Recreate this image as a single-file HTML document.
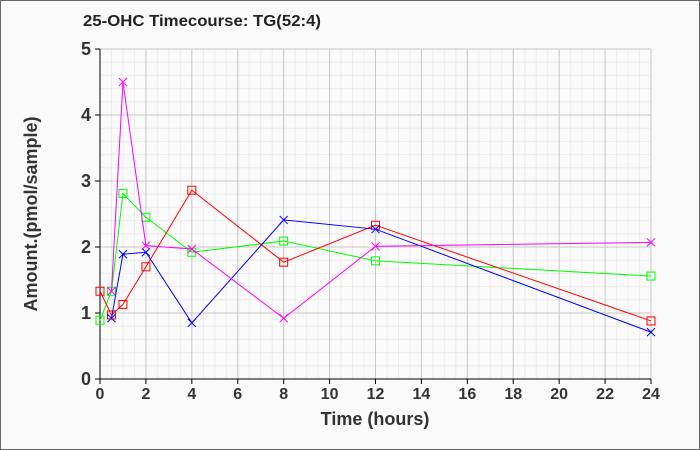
<!DOCTYPE html>
<html><head><meta charset="utf-8"><style>
html,body{margin:0;padding:0;background:#fafafa;}
svg{display:block;font-family:"Liberation Sans",Arial,sans-serif;}
</style></head><body>
<svg id="c" width="700" height="450" xmlns="http://www.w3.org/2000/svg"></svg>
<script>
const s=document.getElementById('c');
const X0=100,XS=(651-100)/24,Y0=379,YS=66;
const px=t=>X0+t*XS, py=v=>Y0-v*YS;
let h='<rect x="0.5" y="0.5" width="699" height="449" fill="#fafafa" stroke="#666"/>';
h+='<text x="83" y="26" font-size="16" font-weight="bold" fill="#222" textLength="238" lengthAdjust="spacingAndGlyphs">25-OHC Timecourse: TG(52:4)</text>';
for(let t=0;t<=24;t+=0.5){h+=`<line x1="${px(t)}" y1="${py(5)}" x2="${px(t)}" y2="${Y0}" stroke="#ececec"/>`;}
for(let v=0;v<=5.001;v+=0.2){h+=`<line x1="${X0}" y1="${py(v)}" x2="${px(24)}" y2="${py(v)}" stroke="#ececec"/>`;}
for(let t=0;t<=24;t+=2){h+=`<line x1="${px(t)}" y1="${py(5)}" x2="${px(t)}" y2="${Y0}" stroke="#c8c8c8"/>`;
 h+=`<line x1="${px(t)}" y1="${Y0}" x2="${px(t)}" y2="${Y0+5}" stroke="#000"/>`;
 h+=`<text x="${px(t)}" y="${Y0+20}" font-size="16" font-weight="bold" fill="#333" text-anchor="middle">${t}</text>`;}
for(let v=0;v<=5;v++){h+=`<line x1="${X0}" y1="${py(v)}" x2="${px(24)}" y2="${py(v)}" stroke="#c8c8c8"/>`;
 h+=`<line x1="${X0-5}" y1="${py(v)}" x2="${X0}" y2="${py(v)}" stroke="#000"/>`;
 h+=`<text x="${X0-9}" y="${py(v)+6}" font-size="18" font-weight="bold" fill="#333" text-anchor="end">${v}</text>`;}
h+=`<line x1="${X0}" y1="${py(5)}" x2="${X0}" y2="${Y0}" stroke="#000"/><line x1="${X0}" y1="${Y0}" x2="${px(24)}" y2="${Y0}" stroke="#000"/>`;
h+=`<text x="375" y="425" font-size="18" font-weight="bold" fill="#333" text-anchor="middle">Time (hours)</text>`;
h+=`<text transform="translate(37,214) rotate(-90)" font-size="18" font-weight="bold" fill="#333" text-anchor="middle">Amount.(pmol/sample)</text>`;
const T=[0,0.5,1,2,4,8,12,24];
const ser=[
 ['#00ff00','sq',[0.89,1.33,2.81,2.45,1.92,2.09,1.79,1.56]],
 ['#ff0000','sq',[1.33,0.97,1.13,1.70,2.86,1.77,2.33,0.88]],
 ['#0000ff','x',[null,0.92,1.89,1.92,0.85,2.41,2.27,0.71]],
 ['#ff00ff','x',[null,1.33,4.5,2.02,1.97,0.92,2.01,2.07]]];
for(const [c,m,d] of ser){let pts=[];T.forEach((t,i)=>{if(d[i]!=null)pts.push([px(t),py(d[i])]);});
 h+=`<polyline fill="none" stroke="${c}" stroke-width="1" points="${pts.map(p=>p.join(',')).join(' ')}"/>`;
 for(const [x,y] of pts){ if(m=='sq') h+=`<rect x="${x-4}" y="${y-4}" width="8" height="8" fill="none" stroke="${c}"/>`;
  else h+=`<path d="M${x-4} ${y-4}L${x+4} ${y+4}M${x-4} ${y+4}L${x+4} ${y-4}" stroke="${c}"/>`;}}
s.innerHTML=h;
</script>
</body></html>
